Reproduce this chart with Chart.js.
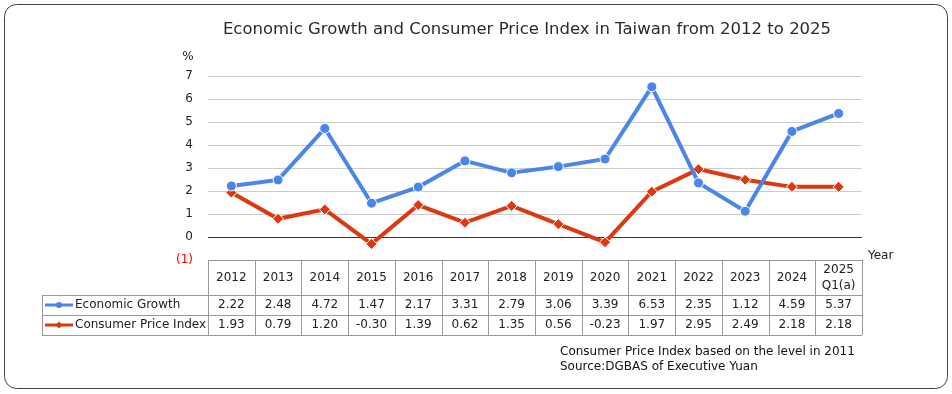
<!DOCTYPE html>
<html>
<head>
<meta charset="utf-8">
<script src="https://cdn.jsdelivr.net/npm/chart.js@4"></script>
<style>
  html, body { margin: 0; padding: 0; background: #fff; }
  #wrap { width: 952px; height: 394px; position: relative; }
</style>
</head>
<body>
<div id="wrap"><canvas id="chart" width="952" height="394"></canvas></div>
<script>
// data
const years = ['2012', '2013', '2014', '2015', '2016', '2017', '2018', '2019', '2020', '2021', '2022', '2023', '2024', ['2025', 'Q1(a)']];
const growth = [2.22, 2.48, 4.72, 1.47, 2.17, 3.31, 2.79, 3.06, 3.39, 6.53, 2.35, 1.12, 4.59, 5.37];
const cpi = [1.93, 0.79, 1.20, -0.30, 1.39, 0.62, 1.35, 0.56, -0.23, 1.97, 2.95, 2.49, 2.18, 2.18];
const yTicks = [-1, 0, 1, 2, 3, 4, 5, 6, 7];

const FONT = "'DejaVu Sans', sans-serif";
const BLUE = '#4a86e8';
const RED = '#dc3912';

// draws frame, title, notes and the data table under the plot
const extras = {
    id: 'extras',
    beforeDraw(chart) {
        const ctx = chart.ctx;
        ctx.save();
        ctx.strokeStyle = '#444';
        ctx.lineWidth = 1;
        ctx.beginPath();
        ctx.roundRect(4.5, 4.5, 943, 384, 12);
        ctx.stroke();
        ctx.restore();
    },
    afterDraw(chart) {
        const ctx = chart.ctx;
        const x = chart.scales.x;
        const area = chart.chartArea;
        ctx.save();

        // title
        ctx.fillStyle = '#2a2a2a';
        ctx.font = '16.5px ' + FONT;
        ctx.textAlign = 'center';
        ctx.textBaseline = 'middle';
        ctx.fillText('Economic Growth and Consumer Price Index in Taiwan from 2012 to 2025', 527, 30);

        // unit
        ctx.font = '12px ' + FONT;
        ctx.fillStyle = '#222';
        ctx.fillText('%', 188, 57);
        ctx.textAlign = 'left';
        ctx.fillText('Year', 868, 256);

        // table
        const n = years.length;
        const colW = (area.right - area.left) / n;
        const top = area.bottom, r1 = top + 35, r2 = r1 + 20, r3 = r2 + 20;
        const legL = 42;
        ctx.strokeStyle = '#999';
        ctx.lineWidth = 1;
        ctx.beginPath();
        ctx.moveTo(area.left, top + 0.5); ctx.lineTo(area.right, top + 0.5);
        [r1, r2, r3].forEach(y => { ctx.moveTo(legL, y + 0.5); ctx.lineTo(area.right, y + 0.5); });
        ctx.moveTo(legL + 0.5, r1); ctx.lineTo(legL + 0.5, r3);
        for (let i = 0; i <= n; i++) {
            const cx = Math.round(area.left + i * colW) + 0.5;
            ctx.moveTo(cx, top); ctx.lineTo(cx, r3);
        }
        ctx.stroke();

        ctx.fillStyle = '#222';
        ctx.textAlign = 'center';
        ctx.textBaseline = 'middle';
        years.forEach((lab, i) => {
            const cx = x.getPixelForValue(i);
            if (Array.isArray(lab)) {
                ctx.fillText(lab[0], cx, top + 10);
                ctx.fillText(lab[1], cx, top + 26);
            } else {
                ctx.fillText(lab, cx, top + 18);
            }
            ctx.fillText(growth[i].toFixed(2), cx, r1 + 10);
            ctx.fillText(cpi[i].toFixed(2), cx, r2 + 10);
        });

        // legend keys
        const keys = [
            { label: 'Economic Growth', color: BLUE, y: r1 + 10, dia: false },
            { label: 'Consumer Price Index', color: RED, y: r2 + 10, dia: true }
        ];
        keys.forEach(k => {
            ctx.strokeStyle = k.color;
            ctx.fillStyle = k.color;
            ctx.lineWidth = 3;
            ctx.beginPath();
            ctx.moveTo(45, k.y); ctx.lineTo(73, k.y);
            ctx.stroke();
            ctx.beginPath();
            if (k.dia) {
                ctx.moveTo(59, k.y - 3.5); ctx.lineTo(62.5, k.y); ctx.lineTo(59, k.y + 3.5); ctx.lineTo(55.5, k.y);
            } else {
                ctx.arc(59, k.y, 3, 0, Math.PI * 2);
            }
            ctx.fill();
            ctx.fillStyle = '#222';
            ctx.textAlign = 'left';
            ctx.fillText(k.label, 75, k.y);
        });

        // notes
        ctx.font = '12px ' + FONT;
        ctx.fillStyle = '#111';
        ctx.fillText('Consumer Price Index based on the level in 2011', 560, 352);
        ctx.fillText('Source:DGBAS of Executive Yuan', 560, 367);
        ctx.restore();
    }
};

new Chart(document.getElementById('chart'), {
    type: 'line',
    data: {
        labels: years,
        datasets: [
            {
                label: 'Economic Growth',
                data: growth,
                borderColor: BLUE,
                backgroundColor: BLUE,
                borderWidth: 4,
                pointStyle: 'circle',
                pointRadius: 5,
                pointBorderColor: '#fff',
                pointBorderWidth: 1,
                tension: 0
            },
            {
                label: 'Consumer Price Index',
                data: cpi,
                borderColor: RED,
                backgroundColor: RED,
                borderWidth: 4,
                pointStyle: 'rectRot',
                pointRadius: 5.5,
                pointBorderColor: '#fff',
                pointBorderWidth: 1,
                tension: 0
            }
        ]
    },
    options: {
        responsive: false,
        animation: false,
        layout: { padding: { left: 0, top: 76, right: 90, bottom: 134 } },
        scales: {
            x: { display: false, offset: true },
            y: {
                min: -1,
                max: 7,
                afterFit: s => { s.width = 208; },
                afterBuildTicks: s => { s.ticks = yTicks.map(v => ({ value: v })); },
                border: { display: false },
                grid: {
                    drawTicks: false,
                    color: c => c.tick.value === 0 ? '#333' : (c.tick.value === -1 ? 'rgba(0,0,0,0)' : '#ccc'),
                    lineWidth: 1
                },
                ticks: {
                    padding: 15,
                    font: { family: FONT, size: 12 },
                    color: c => c.tick.value === -1 ? '#e00' : '#222',
                    callback: v => v < 0 ? '(' + Math.abs(v) + ')' : String(v)
                }
            }
        },
        plugins: {
            legend: { display: false },
            title: { display: false },
            tooltip: { enabled: false }
        }
    },
    plugins: [extras]
});
</script>
</body>
</html>
